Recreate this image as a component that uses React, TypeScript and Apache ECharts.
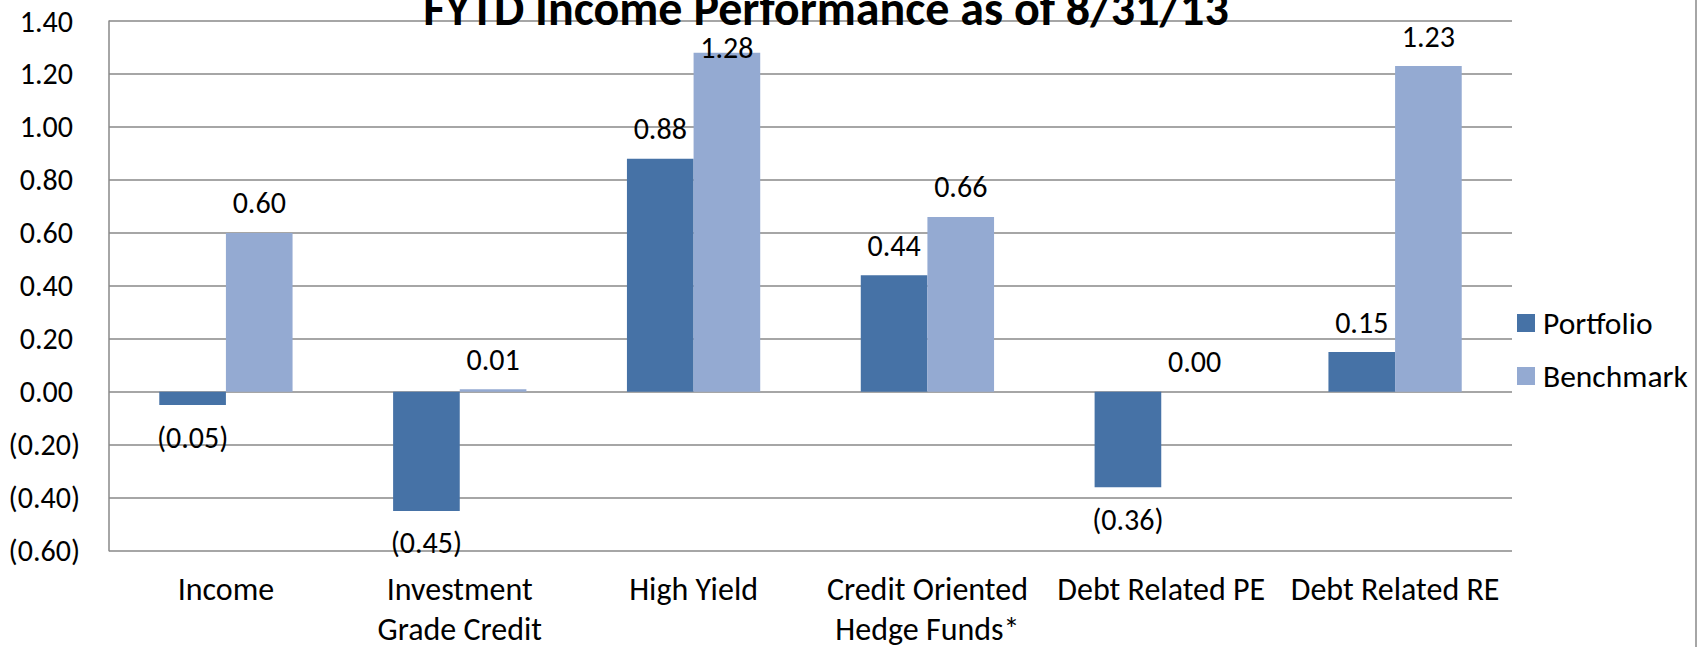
import React, { useEffect, useRef } from "react";
import * as echarts from "echarts";

const title = "FYTD Income Performance as of 8/31/13";
const categories = [
  "Income",
  "Investment\nGrade Credit",
  "High Yield",
  "Credit Oriented\nHedge Funds*",
  "Debt Related PE",
  "Debt Related RE",
];
const seriesNames = ["Portfolio", "Benchmark"];
const portfolio = [-0.05, -0.45, 0.88, 0.44, -0.36, 0.15];
const benchmark = [0.6, 0.01, 1.28, 0.66, 0.0, 1.23];
const yMin = -0.6;
const yMax = 1.4;
const yStep = 0.2;

const FONT = "Carlito, Lato, 'Noto Sans', sans-serif";
const GRID_COLOR = "#888888";
const COLORS = ["#4672A6", "#94AAD2"];

const fmt = (v: number) => {
  const r = Math.round(v * 100) / 100;
  return r < 0 ? `(${Math.abs(r).toFixed(2)})` : r.toFixed(2);
};

const labelFor = (v: number) => {
  if (v < 0) return { position: "bottom", distance: 17 };
  if (v > 1.25) return { position: "top", distance: -10 };
  return { position: "top", distance: 15 };
};

const toData = (arr: number[]) =>
  arr.map((v) => ({ value: v, label: labelFor(v) }));

export default function App() {
  const ref = useRef<HTMLDivElement>(null);
  useEffect(() => {
    if (!ref.current) return;
    const chart = echarts.init(ref.current, undefined, { renderer: "svg" });
    const labelCommon = {
      show: true,
      fontFamily: FONT,
      fontSize: 30,
      color: "#000",
      formatter: (p: any) => fmt(p.value),
    };
    chart.setOption({
      animation: false,
      backgroundColor: "#fff",
      title: {
        text: title,
        left: 821,
        textAlign: "center",
        top: -17,
        textStyle: {
          fontFamily: FONT,
          fontSize: 48,
          lineHeight: 40,
          fontWeight: "bold",
          color: "#000",
        },
      },
      legend: {
        orient: "vertical",
        left: 1517,
        top: 307,
        padding: 0,
        itemWidth: 18,
        itemHeight: 18,
        itemGap: 21,
        icon: "rect",
        data: seriesNames,
        textStyle: {
          fontFamily: FONT,
          fontSize: 31.5,
          lineHeight: 32,
          color: "#000",
          padding: [0, 0, 0, 3],
        },
      },
      grid: {
        left: 109,
        right: 191,
        top: 21,
        bottom: 96.3,
        containLabel: false,
        outerBoundsMode: "none",
      },
      xAxis: {
        type: "category",
        data: categories,
        axisLine: { show: false },
        axisTick: { show: false },
        axisLabel: {
          interval: 0,
          margin: 19,
          fontFamily: FONT,
          fontSize: 32,
          lineHeight: 40,
          color: "#000",
        },
      },
      yAxis: {
        type: "value",
        min: yMin,
        max: yMax,
        interval: yStep,
        axisLine: { show: true, lineStyle: { color: GRID_COLOR, width: 1.5 } },
        axisTick: { show: false },
        splitLine: { lineStyle: { color: GRID_COLOR, width: 1.5 } },
        axisLabel: {
          margin: 29,
          fontFamily: FONT,
          fontSize: 30,
          color: "#000",
          formatter: (v: number) => {
            const r = Math.round(v * 100) / 100;
            return r < 0 ? `{n|${fmt(r)}}` : `{p|${fmt(r)}}`;
          },
          rich: {
            n: { fontFamily: FONT, fontSize: 30, color: "#000" },
            p: { fontFamily: FONT, fontSize: 30, color: "#000", padding: [0, 7, 0, 0] },
          },
        },
      },
      series: [
        {
          name: seriesNames[0],
          type: "bar",
          data: toData(portfolio),
          itemStyle: { color: COLORS[0] },
          barGap: "0%",
          barCategoryGap: "43%",
          label: labelCommon,
        },
        {
          name: seriesNames[1],
          type: "bar",
          data: toData(benchmark),
          itemStyle: { color: COLORS[1] },
          barGap: "0%",
          barCategoryGap: "43%",
          label: labelCommon,
        },
      ],
      graphic: [
        {
          type: "line",
          shape: { x1: 1696, y1: 0, x2: 1696, y2: 647 },
          style: { stroke: GRID_COLOR, lineWidth: 1.5 },
        },
      ],
    });
    return () => chart.dispose();
  }, []);
  return (
    <div
      ref={ref}
      style={{ position: "fixed", left: 0, top: 0, width: 1703, height: 647 }}
    />
  );
}
